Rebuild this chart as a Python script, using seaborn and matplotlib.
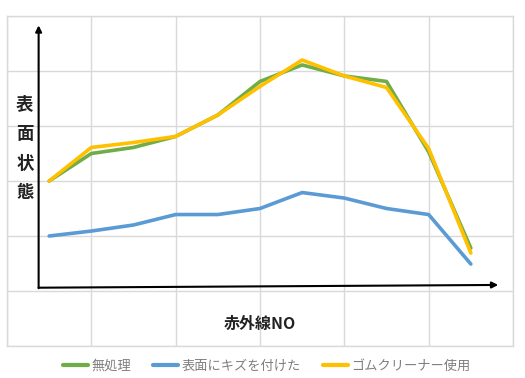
import matplotlib
matplotlib.use("Agg")
import matplotlib.pyplot as plt
import pandas as pd
import seaborn as sns

# measurement number (11 points) and surface state for each treatment
ir_no = list(range(11))
mushori = [3.0, 3.5, 3.61, 3.81, 4.2, 4.81, 5.11, 4.91, 4.81, 3.53, 1.78]
kizu = [2.0, 2.09, 2.2, 2.39, 2.39, 2.5, 2.79, 2.69, 2.5, 2.39, 1.49]
gomu = [3.0, 3.61, 3.7, 3.81, 4.2, 4.72, 5.2, 4.91, 4.7, 3.59, 1.69]
series_names = ["無処理", "表面にキズを付けた", "ゴムクリーナー使用"]
colors = ["#70AD47", "#5B9BD5", "#FFC000"]

df = pd.DataFrame({
    "no": ir_no * 3,
    "val": mushori + kizu + gomu,
    "series": [series_names[0]] * 11 + [series_names[1]] * 11 + [series_names[2]] * 11,
})

sns.set_style("white")
plt.rcParams['font.family'] = ['Noto Sans CJK JP', 'DejaVu Sans']

fig = plt.figure(figsize=(5.25, 3.78), dpi=100)
ax = fig.add_axes([7 / 525, 1 - 346 / 378, 506 / 525, 330 / 378])

sns.lineplot(data=df, x="no", y="val", hue="series", palette=colors,
             linewidth=2.6, ax=ax, legend=False)

ax.set_xlim(-1, 11)
ax.set_ylim(0, 6)
ax.set_xticks(range(-1, 12, 2))
ax.set_yticks(range(0, 7))
ax.grid(True, color="#d9d9d9", linewidth=1)
ax.tick_params(length=0, labelbottom=False, labelleft=False)
ax.set_xlabel("")
ax.set_ylabel("")
for s in ax.spines.values():
    s.set_color("#d9d9d9")
    s.set_linewidth(1)

# hand-drawn axis arrows
ax.annotate("", xy=(-0.25, 5.83), xytext=(-0.25, 1.05),
            arrowprops=dict(arrowstyle="-|>", color="black", lw=1.5,
                            mutation_scale=9, shrinkA=0, shrinkB=0))
ax.annotate("", xy=(10.65, 1.11), xytext=(-0.25, 1.06),
            arrowprops=dict(arrowstyle="-|>", color="black", lw=1.5,
                            mutation_scale=9, shrinkA=0, shrinkB=0))

ax.text(5, 0.4, "赤外線NO", ha="center", va="center", fontsize=11.5,
        fontweight="bold", color="#222222")
ax.text(-0.58, 3.59, "表\n面\n状\n態", ha="center", va="center", fontsize=12.5,
        fontweight="bold", color="#222222", linespacing=1.85)

handles = [plt.Line2D([], [], color=c, linewidth=3) for c in colors]
leg = fig.legend(handles, series_names, loc="center", bbox_to_anchor=(0.508, 1 - 366 / 378),
                 ncol=3, frameon=False, fontsize=9.5, handlelength=1.9,
                 handletextpad=0.25, columnspacing=1.7)
for t in leg.get_texts():
    t.set_color("#7f7f7f")

fig.savefig("out.png", dpi=100)
